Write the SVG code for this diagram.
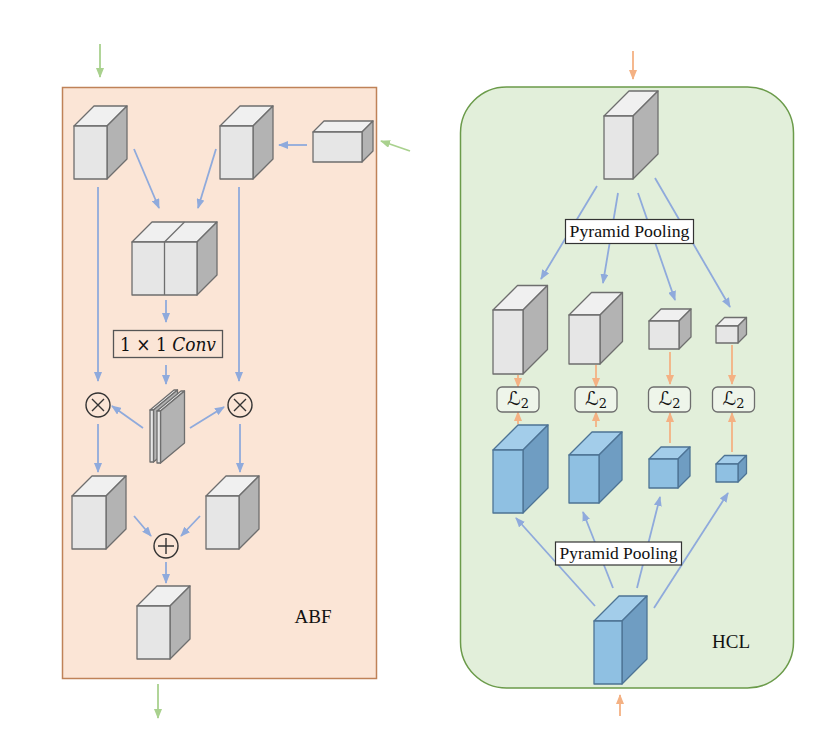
<svg xmlns="http://www.w3.org/2000/svg" width="819" height="746" viewBox="0 0 819 746">
<style>
.fr{fill:#e6e6e6;stroke:#6e6e6e;stroke-width:1.3;stroke-linejoin:round}
.tp{fill:#f0f0f0;stroke:#6e6e6e;stroke-width:1.3;stroke-linejoin:round}
.sd{fill:#b3b3b3;stroke:#6e6e6e;stroke-width:1.3;stroke-linejoin:round}
.bfr{fill:#8fc0e2;stroke:#4d7394;stroke-width:1.3;stroke-linejoin:round}
.btp{fill:#a3cdea;stroke:#4d7394;stroke-width:1.3;stroke-linejoin:round}
.bsd{fill:#6f9dc2;stroke:#4d7394;stroke-width:1.3;stroke-linejoin:round}
.cb{stroke:#8faadc;stroke-width:1.8;fill:none;marker-end:url(#ab)}
.cg{stroke:#a9d18e;stroke-width:1.8;fill:none;marker-end:url(#ag)}
.co{stroke:#f4b183;stroke-width:1.8;fill:none;marker-end:url(#ao)}
.lbl{font-family:"Liberation Serif","Times New Roman",serif;fill:#111}
.op{fill:none;stroke:#333;stroke-width:1.4}
.l2{font-family:"DejaVu Serif","DejaVu Sans",serif;font-size:19px;font-style:italic;fill:#111}
</style>
<defs>
<marker id="ab" markerUnits="userSpaceOnUse" markerWidth="10" markerHeight="8" refX="9" refY="4" orient="auto"><path d="M0,0 L10,4 L0,8 Z" fill="#8faadc"/></marker>
<marker id="ag" markerUnits="userSpaceOnUse" markerWidth="10" markerHeight="8" refX="9" refY="4" orient="auto"><path d="M0,0 L10,4 L0,8 Z" fill="#a9d18e"/></marker>
<marker id="ao" markerUnits="userSpaceOnUse" markerWidth="10" markerHeight="8" refX="9" refY="4" orient="auto"><path d="M0,0 L10,4 L0,8 Z" fill="#f4b183"/></marker>
</defs>

<g id="panel-abf">
<rect x="62.5" y="87.5" width="314" height="591" fill="#fbe5d6" stroke="#bf8258" stroke-width="1.5"/>
<text class="lbl" x="313" y="623" font-size="19" text-anchor="middle">ABF</text>
</g>
<g id="panel-hcl">
<rect x="460.5" y="87" width="333" height="601" rx="46" ry="46" fill="#e2efda" stroke="#6b9b4a" stroke-width="1.5"/>
<text class="lbl" x="731" y="648" font-size="19" text-anchor="middle">HCL</text>
</g>

<g id="connectors">
<line class="cg" x1="100" y1="44" x2="100" y2="77"/>
<line class="cg" x1="410" y1="151" x2="381" y2="141"/>
<line class="cg" x1="158" y1="684" x2="158" y2="718"/>
<line class="cb" x1="307" y1="145" x2="279" y2="145"/>
<line class="cb" x1="134" y1="149" x2="159" y2="208"/>
<line class="cb" x1="216" y1="149" x2="198" y2="208"/>
<line class="cb" x1="98" y1="187" x2="98" y2="381"/>
<line class="cb" x1="239" y1="187" x2="239" y2="381"/>
<line class="cb" x1="166" y1="300" x2="166" y2="322"/>
<line class="cb" x1="166" y1="365" x2="166" y2="384"/>
<line class="cb" x1="143" y1="428" x2="112" y2="406"/>
<line class="cb" x1="190" y1="428" x2="224" y2="407"/>
<line class="cb" x1="98" y1="424" x2="98" y2="472"/>
<line class="cb" x1="240" y1="424" x2="240" y2="472"/>
<line class="cb" x1="134" y1="516" x2="151" y2="536"/>
<line class="cb" x1="200" y1="516" x2="181" y2="536"/>
<line class="cb" x1="166" y1="562" x2="166" y2="583"/>
<line class="cb" x1="597" y1="186" x2="541" y2="279"/>
<line class="cb" x1="618" y1="193" x2="603" y2="283"/>
<line class="cb" x1="638" y1="193" x2="675" y2="300"/>
<line class="cb" x1="655" y1="178" x2="730" y2="307"/>
<line class="cb" x1="595" y1="606" x2="516" y2="518"/>
<line class="cb" x1="613" y1="588" x2="583" y2="512"/>
<line class="cb" x1="637" y1="588" x2="660" y2="497"/>
<line class="cb" x1="654" y1="608" x2="728" y2="493"/>
<line class="co" x1="633" y1="51" x2="633" y2="79"/>
<line class="co" x1="620" y1="716" x2="620" y2="695"/>
<line class="co" x1="518" y1="375" x2="518" y2="387"/>
<line class="co" x1="518" y1="424" x2="518" y2="412"/>
<line class="co" x1="596" y1="365" x2="596" y2="387"/>
<line class="co" x1="596" y1="427" x2="596" y2="412"/>
<line class="co" x1="670" y1="352" x2="670" y2="384"/>
<line class="co" x1="670" y1="443" x2="670" y2="413"/>
<line class="co" x1="732" y1="345" x2="732" y2="384"/>
<line class="co" x1="732" y1="452" x2="732" y2="413"/>
</g>

<!-- ABF nodes -->
<g id="abf-in1">
<polygon class="tp" points="74,126 94,106 127,106 107,126"/>
<polygon class="sd" points="107,126 127,106 127,159 107,179"/>
<rect class="fr" x="74" y="126" width="33" height="53"/>
</g>
<g id="abf-in2">
<polygon class="tp" points="220,126 240,106 273,106 253,126"/>
<polygon class="sd" points="253,126 273,106 273,159 253,179"/>
<rect class="fr" x="220" y="126" width="33" height="53"/>
</g>
<g id="abf-guide">
<polygon class="tp" points="313,132 324,121 373,121 362,132"/>
<polygon class="sd" points="362,132 373,121 373,151 362,162"/>
<rect class="fr" x="313" y="132" width="49" height="30"/>
</g>
<g id="abf-concat">
<polygon class="tp" points="132,242 152,222 217,222 197,242"/>
<line x1="164.5" y1="242" x2="184.5" y2="222" stroke="#6e6e6e" stroke-width="1.3"/>
<polygon class="sd" points="197,242 217,222 217,275 197,295"/>
<rect class="fr" x="132" y="242" width="65" height="53"/>
<line x1="164.5" y1="242" x2="164.5" y2="295" stroke="#6e6e6e" stroke-width="1.3"/>
</g>
<g id="abf-conv">
<rect x="113.5" y="330.5" width="109" height="27" fill="#fbe5d6" stroke="#555" stroke-width="1.3"/>
<text x="168" y="350.5" font-family="'DejaVu Serif',serif" font-size="18" text-anchor="middle" fill="#111" textLength="96" lengthAdjust="spacingAndGlyphs">1 × 1 <tspan font-style="italic">Conv</tspan></text>
</g>
<g id="abf-attn">
<polygon class="tp" points="150,410 174,390 177.5,390 153.5,410"/>
<polygon class="sd" points="153.5,410 177.5,390 177.5,442 153.5,462"/>
<rect class="fr" x="150" y="410" width="3.5" height="52"/>
<polygon class="tp" points="157,411 181,391 184.5,391 160.5,411"/>
<polygon class="sd" points="160.5,411 184.5,391 184.5,443 160.5,463"/>
<rect class="fr" x="157" y="411" width="3.5" height="52"/>
</g>
<g id="abf-mul1">
<circle class="op" cx="98" cy="405" r="12"/>
<path class="op" d="M92,399 L104,411 M104,399 L92,411"/>
</g>
<g id="abf-mul2">
<circle class="op" cx="240" cy="405" r="12"/>
<path class="op" d="M234,399 L246,411 M246,399 L234,411"/>
</g>
<g id="abf-f1">
<polygon class="tp" points="72,496 92,476 126,476 106,496"/>
<polygon class="sd" points="106,496 126,476 126,529 106,549"/>
<rect class="fr" x="72" y="496" width="34" height="53"/>
</g>
<g id="abf-f2">
<polygon class="tp" points="206,496 226,476 259,476 239,496"/>
<polygon class="sd" points="239,496 259,476 259,529 239,549"/>
<rect class="fr" x="206" y="496" width="33" height="53"/>
</g>
<g id="abf-add">
<circle class="op" cx="166" cy="546" r="12"/>
<path class="op" d="M158,546 L174,546 M166,538 L166,554"/>
</g>
<g id="abf-out">
<polygon class="tp" points="137,606 157,586 190,586 170,606"/>
<polygon class="sd" points="170,606 190,586 190,639 170,659"/>
<rect class="fr" x="137" y="606" width="33" height="53"/>
</g>

<!-- HCL nodes -->
<g id="hcl-top">
<polygon class="tp" points="604,116 629,91 658,91 633,116"/>
<polygon class="sd" points="633,116 658,91 658,154 633,179"/>
<rect class="fr" x="604" y="116" width="29" height="63"/>
</g>
<g id="hcl-pp1">
<rect x="565.5" y="219.5" width="128" height="24" fill="#fff" stroke="#333" stroke-width="1.2"/>
<text class="lbl" x="629.5" y="237" font-size="17" text-anchor="middle" textLength="120" lengthAdjust="spacingAndGlyphs">Pyramid Pooling</text>
</g>
<g id="hcl-g1">
<polygon class="tp" points="493,310 517.5,285.5 547.5,285.5 523,310"/>
<polygon class="sd" points="523,310 547.5,285.5 547.5,349.5 523,374"/>
<rect class="fr" x="493" y="310" width="30" height="64"/>
</g>
<g id="hcl-g2">
<polygon class="tp" points="569,315 591.5,292.5 622.5,292.5 600,315"/>
<polygon class="sd" points="600,315 622.5,292.5 622.5,341.5 600,364"/>
<rect class="fr" x="569" y="315" width="31" height="49"/>
</g>
<g id="hcl-g3">
<polygon class="tp" points="649,321 661,309 691,309 679,321"/>
<polygon class="sd" points="679,321 691,309 691,337 679,349"/>
<rect class="fr" x="649" y="321" width="30" height="28"/>
</g>
<g id="hcl-g4">
<polygon class="tp" points="716,326 724.5,317.5 746.5,317.5 738,326"/>
<polygon class="sd" points="738,326 746.5,317.5 746.5,334.5 738,343"/>
<rect class="fr" x="716" y="326" width="22" height="17"/>
</g>
<g id="hcl-l2-1">
<rect x="497" y="387" width="42" height="25" rx="5" fill="#eef5ea" stroke="#6e6e6e" stroke-width="1.3"/>
<text class="l2" x="518" y="405" text-anchor="middle">ℒ<tspan font-size="13" dy="3" font-style="normal">2</tspan></text>
</g>
<g id="hcl-l2-2">
<rect x="575" y="387" width="42" height="25" rx="5" fill="#eef5ea" stroke="#6e6e6e" stroke-width="1.3"/>
<text class="l2" x="596" y="405" text-anchor="middle">ℒ<tspan font-size="13" dy="3" font-style="normal">2</tspan></text>
</g>
<g id="hcl-l2-3">
<rect x="648.5" y="387" width="42" height="25" rx="5" fill="#eef5ea" stroke="#6e6e6e" stroke-width="1.3"/>
<text class="l2" x="669.5" y="405" text-anchor="middle">ℒ<tspan font-size="13" dy="3" font-style="normal">2</tspan></text>
</g>
<g id="hcl-l2-4">
<rect x="712.5" y="387" width="42" height="25" rx="5" fill="#eef5ea" stroke="#6e6e6e" stroke-width="1.3"/>
<text class="l2" x="733.5" y="405" text-anchor="middle">ℒ<tspan font-size="13" dy="3" font-style="normal">2</tspan></text>
</g>
<g id="hcl-b1">
<polygon class="btp" points="493,450 518,425 548,425 523,450"/>
<polygon class="bsd" points="523,450 548,425 548,488 523,513"/>
<rect class="bfr" x="493" y="450" width="30" height="63"/>
</g>
<g id="hcl-b2">
<polygon class="btp" points="569,455 592,432 622,432 599,455"/>
<polygon class="bsd" points="599,455 622,432 622,480 599,503"/>
<rect class="bfr" x="569" y="455" width="30" height="48"/>
</g>
<g id="hcl-b3">
<polygon class="btp" points="649,459 661,447 690,447 678,459"/>
<polygon class="bsd" points="678,459 690,447 690,476 678,488"/>
<rect class="bfr" x="649" y="459" width="29" height="29"/>
</g>
<g id="hcl-b4">
<polygon class="btp" points="716,464 724.5,455.5 746.5,455.5 738,464"/>
<polygon class="bsd" points="738,464 746.5,455.5 746.5,473.5 738,482"/>
<rect class="bfr" x="716" y="464" width="22" height="18"/>
</g>
<g id="hcl-pp2">
<rect x="555.5" y="542" width="126" height="23" fill="#fff" stroke="#333" stroke-width="1.2"/>
<text class="lbl" x="618.5" y="559" font-size="17" text-anchor="middle" textLength="118" lengthAdjust="spacingAndGlyphs">Pyramid Pooling</text>
</g>
<g id="hcl-bottom">
<polygon class="btp" points="594,621 619,596 647,596 622,621"/>
<polygon class="bsd" points="622,621 647,596 647,659 622,684"/>
<rect class="bfr" x="594" y="621" width="28" height="63"/>
</g>
</svg>
